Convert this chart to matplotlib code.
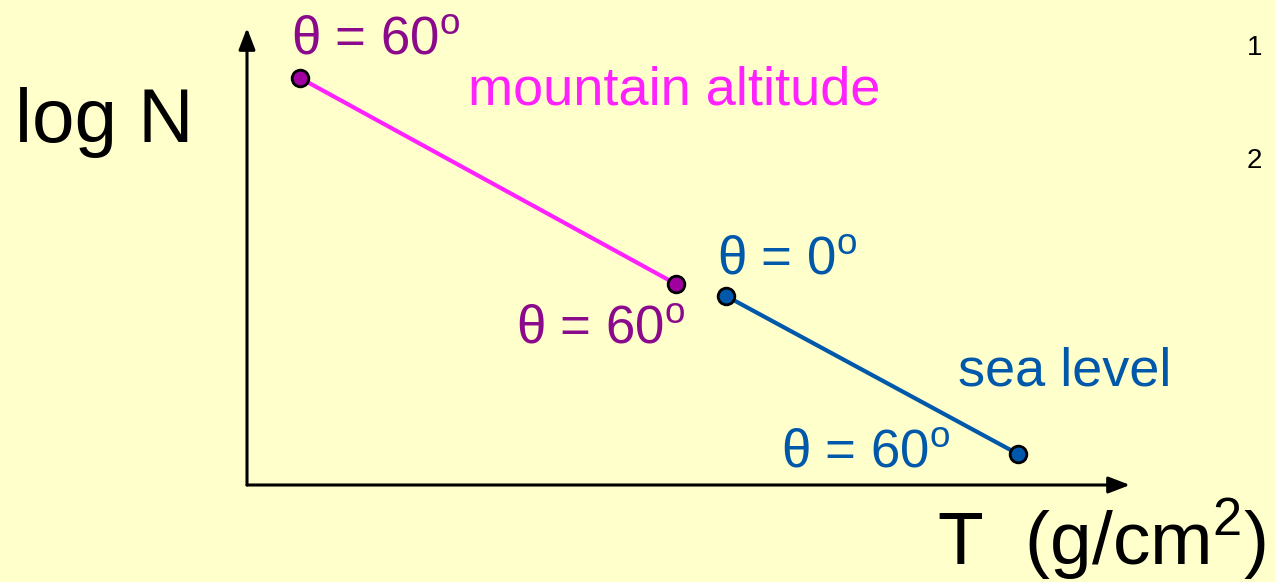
import matplotlib
matplotlib.use("Agg")
import matplotlib.pyplot as plt

plt.rcParams['font.family'] = ['Liberation Sans', 'DejaVu Sans']
plt.rcParams['mathtext.fontset'] = 'custom'
plt.rcParams['mathtext.rm'] = 'Liberation Sans'

# depth T (arbitrary units) and log N
mountain_T = [0.53, 4.29]
mountain_logN = [4.07, 2.01]
sea_T = [4.79, 7.71]
sea_logN = [1.89, 0.31]

bg = '#FFFFCC'
purple = '#8B0A8B'
magenta = '#FF22FF'
blue = '#0058AA'

fig = plt.figure(figsize=(12.75, 5.82), dpi=100, facecolor=bg)
ax = fig.add_axes([0, 0, 1, 1])
ax.set_facecolor(bg)
ax.set_xlim(-2.47, 10.28)
ax.set_ylim(-0.97, 4.85)
ax.axis('off')

# axes arrows
arrow = dict(arrowstyle='-|>,head_length=1.3,head_width=0.5', color='black', lw=2.2,
             shrinkA=0, shrinkB=0)
ax.annotate('', xy=(8.83, 0), xytext=(0, 0), arrowprops=arrow)
ax.annotate('', xy=(0, 4.57), xytext=(0, 0), arrowprops=arrow)

# lines
ax.plot(mountain_T, mountain_logN, color=magenta, lw=3, solid_capstyle='butt', zorder=3)
ax.plot(sea_T, sea_logN, color=blue, lw=3, solid_capstyle='butt', zorder=3)
ax.plot(mountain_T, mountain_logN, 'o', ms=12, mfc='#A000A0', mec='black', mew=2, zorder=4)
ax.plot(sea_T, sea_logN, 'o', ms=12, mfc=blue, mec='black', mew=2, zorder=4)

deg60 = r'θ = 60$^{\rm o}$'
deg0 = r'θ = 0$^{\rm o}$'
ax.text(0.44, 4.30, deg60, color=purple, fontsize=38)
ax.text(2.21, 3.80, 'mountain altitude', color=magenta, fontsize=39)
ax.text(2.69, 1.42, deg60, color=purple, fontsize=38)
ax.text(4.70, 2.10, deg0, color=blue, fontsize=38)
ax.text(7.11, 1.00, 'sea level', color=blue, fontsize=39)
ax.text(5.34, 0.18, deg60, color=blue, fontsize=38)

ax.text(-2.32, 3.43, 'log N', color='black', fontsize=55)
ax.text(6.90, -0.80, r'T  (g/cm$^{\rm 2}$)', color='black', fontsize=54)

ax.text(10.00, 4.30, '1', color='black', fontsize=20)
ax.text(10.00, 3.17, '2', color='black', fontsize=20)

fig.savefig('out.png', dpi=100, facecolor=bg)
